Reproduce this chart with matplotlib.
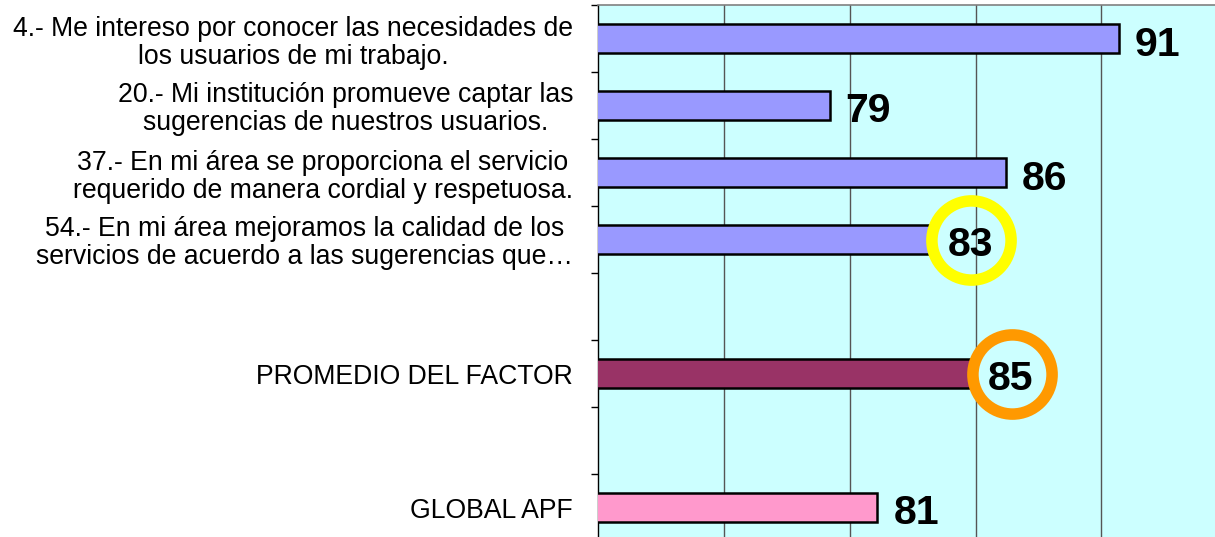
import matplotlib
matplotlib.use("Agg")
import matplotlib.pyplot as plt
from matplotlib.transforms import offset_copy

plt.rcParams['font.family'] = ['Liberation Sans', 'DejaVu Sans']

categories = [
    "4.- Me intereso por conocer las necesidades de\nlos usuarios de mi trabajo.",
    "20.- Mi institución promueve captar las\nsugerencias de nuestros usuarios.",
    "37.- En mi área se proporciona el servicio\nrequerido de manera cordial y respetuosa.",
    "54.- En mi área mejoramos la calidad de los\nservicios de acuerdo a las sugerencias que…",
    "PROMEDIO DEL FACTOR",
    "GLOBAL APF",
]
values = [90.7, 79.2, 86.2, 83.25, 84.85, 81.1]
value_labels = ["91", "79", "86", "83", "85", "81"]
row_slots = [0, 1, 2, 3, 5, 7]
bar_colors = ["#9999FF", "#9999FF", "#9999FF", "#9999FF", "#993366", "#FF99CC"]
ring_colors = [None, None, None, "#FFFF00", "#FF9900", None]

W, H = 1215, 537
fig = plt.figure(figsize=(W / 100, H / 100), dpi=100)
ax = fig.add_axes([598 / W, 1 - 541 / H, 755 / W, 536 / H])
ax.set_facecolor("#CCFFFF")

ax.barh(row_slots, values, left=0, height=0.42, color=bar_colors,
        edgecolor="black", linewidth=1.8, zorder=3)

ax.set_xlim(70, 100)
ax.set_ylim(7.5, -0.5)

ax.set_xticks([75, 80, 85, 90, 95])
ax.xaxis.grid(True, color="#555555", linewidth=1.0, zorder=1)
ax.tick_params(axis="x", length=0, labelbottom=False)

ax.set_yticks(row_slots)
ax.set_yticklabels(categories, fontsize=19.2, multialignment="center", linespacing=1.1)
ax.tick_params(axis="y", which="major", length=0, pad=18)
ax.set_yticks([i - 0.5 for i in range(9)], minor=True)
ax.tick_params(axis="y", which="minor", length=5, width=1, direction="out", color="black")

for s in ["right", "bottom"]:
    ax.spines[s].set_visible(False)
ax.spines["left"].set_color("black")
ax.spines["left"].set_linewidth(1.0)
ax.spines["top"].set_color("#808080")
ax.spines["top"].set_linewidth(1.2)

lab_tr = offset_copy(ax.transData, fig, x=16, y=-2, units="dots")
ring_tr = offset_copy(ax.transData, fig, x=40, y=0, units="dots")
for v, y, lbl, rc in zip(values, row_slots, value_labels, ring_colors):
    ax.text(v, y, lbl, transform=lab_tr, ha="left", va="center_baseline",
            fontsize=29.5, fontweight="bold", color="black", zorder=5)
    if rc:
        ax.plot([v], [y], marker="o", ms=57, mfc="none", mec=rc, mew=8.3,
                transform=ring_tr, zorder=4, clip_on=False)

fig.savefig("out.png", dpi=100)
